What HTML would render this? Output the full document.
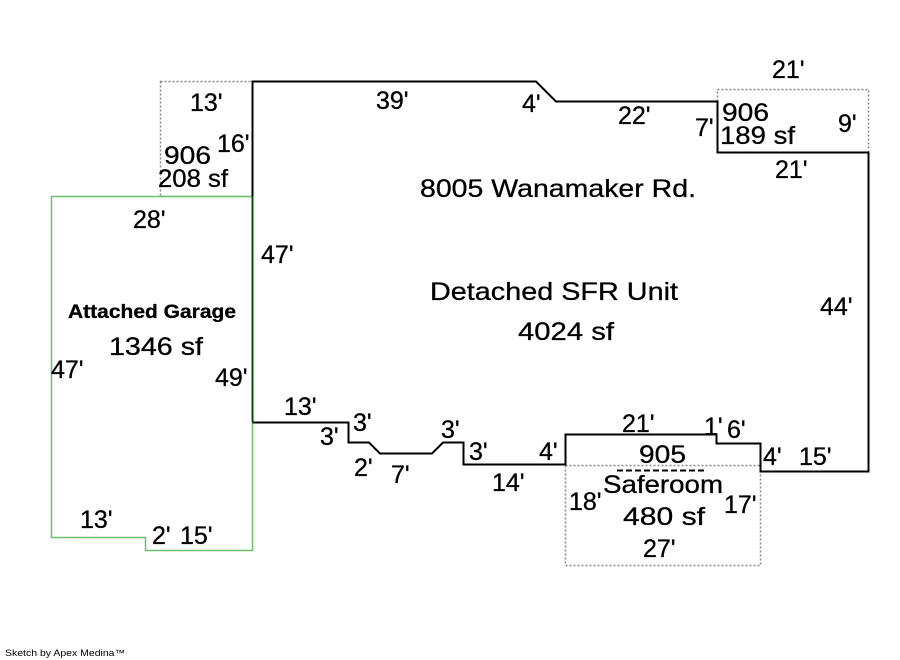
<!DOCTYPE html>
<html><head><meta charset="utf-8"><style>
html,body{margin:0;padding:0;background:#fff;}
svg{display:block;}
text{font-family:"Liberation Sans",Arial,sans-serif;font-size:25px;fill:#000;stroke:#000;stroke-width:0.3;}
</style></head><body>
<svg width="900" height="660" viewBox="0 0 900 660" xmlns="http://www.w3.org/2000/svg">
<rect x="160.5" y="81.5" width="92" height="115" fill="none" stroke="#888" stroke-width="1.5" stroke-dasharray="2,2"/>
<rect x="717.5" y="89.5" width="151" height="63" fill="none" stroke="#888" stroke-width="1.5" stroke-dasharray="2,2"/>
<rect x="565.5" y="465.5" width="195" height="100" fill="none" stroke="#888" stroke-width="1.5" stroke-dasharray="2,2"/>
<polyline points="252.5,196.5 51.5,196.5 51.5,537.5 145.5,537.5 145.5,550.5 252.5,550.5 252.5,422" fill="none" stroke="#6fbf6f" stroke-width="1.5"/>
<line x1="252.5" y1="196" x2="252.5" y2="422" stroke="#0a4a0a" stroke-width="2"/>
<polyline points="252.5,196 252.5,81.5 536,81.5 556,101.5 717.5,101.5 717.5,152.5 868.5,152.5 868.5,471.5 760.5,471.5 760.5,443.5 716.5,443.5 716.5,434.5 565.5,434.5 565.5,464.5 463.5,464.5 463.5,442.5 443,442.5 432,453.5 380,453.5 369,442.5 348.5,442.5 348.5,422.5 252.5,422.5" fill="none" stroke="#000" stroke-width="2"/>
<line x1="617" y1="470.5" x2="705" y2="470.5" stroke="#000" stroke-width="2" stroke-dasharray="6,3"/>

<text x="190" y="111">13'</text>
<text x="217" y="152">16'</text>
<text x="164" y="164" textLength="47" lengthAdjust="spacingAndGlyphs">906</text>
<text x="158" y="187" textLength="70" lengthAdjust="spacingAndGlyphs">208 sf</text>
<text x="376" y="109">39'</text>
<text x="522" y="112">4'</text>
<text x="618" y="124">22'</text>
<text x="772" y="78">21'</text>
<text x="722" y="121" textLength="47" lengthAdjust="spacingAndGlyphs">906</text>
<text x="720" y="144" textLength="75" lengthAdjust="spacingAndGlyphs">189 sf</text>
<text x="695" y="136">7'</text>
<text x="838" y="132">9'</text>
<text x="775" y="178">21'</text>
<text x="420" y="197" textLength="276" lengthAdjust="spacingAndGlyphs">8005 Wanamaker Rd.</text>
<text x="133" y="228">28'</text>
<text x="261" y="263">47'</text>
<text x="430" y="300" textLength="248" lengthAdjust="spacingAndGlyphs">Detached SFR Unit</text>
<text x="518" y="340" textLength="96" lengthAdjust="spacingAndGlyphs">4024 sf</text>
<text x="820" y="315">44'</text>
<text x="68" y="318" style="font-size:19px;font-weight:bold" textLength="168" lengthAdjust="spacingAndGlyphs">Attached Garage</text>
<text x="109" y="355" textLength="94" lengthAdjust="spacingAndGlyphs">1346 sf</text>
<text x="51" y="378">47'</text>
<text x="215" y="386">49'</text>
<text x="284" y="415">13'</text>
<text x="353" y="431">3'</text>
<text x="320" y="445">3'</text>
<text x="354" y="476">2'</text>
<text x="391" y="483">7'</text>
<text x="441" y="438">3'</text>
<text x="469" y="460">3'</text>
<text x="539" y="460">4'</text>
<text x="492" y="491">14'</text>
<text x="622" y="432">21'</text>
<text x="704" y="435">1'</text>
<text x="727" y="438">6'</text>
<text x="639" y="463" textLength="47" lengthAdjust="spacingAndGlyphs">905</text>
<text x="603" y="493" textLength="120" lengthAdjust="spacingAndGlyphs">Saferoom</text>
<text x="569" y="510">18'</text>
<text x="623" y="525" textLength="82" lengthAdjust="spacingAndGlyphs">480 sf</text>
<text x="724" y="513">17'</text>
<text x="643" y="557">27'</text>
<text x="763" y="465">4'</text>
<text x="799" y="465">15'</text>
<text x="80" y="528">13'</text>
<text x="152" y="544">2'</text>
<text x="180" y="544">15'</text>
<text x="5" y="656" style="font-size:9px;stroke-width:0" textLength="120" lengthAdjust="spacingAndGlyphs">Sketch by Apex Medina™</text>
</svg>
</body></html>
